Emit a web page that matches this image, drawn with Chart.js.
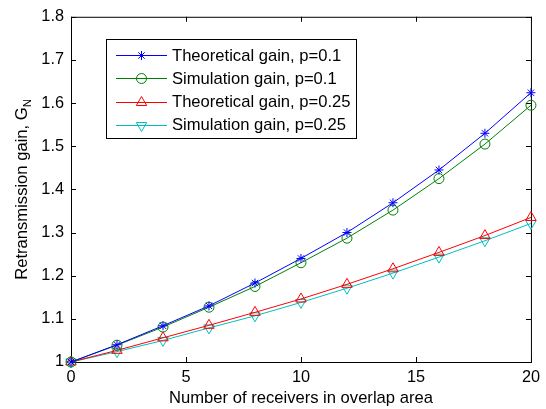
<!DOCTYPE html>
<html>
<head>
<meta charset="utf-8">
<script src="https://cdn.jsdelivr.net/npm/chart.js@4.4.1/dist/chart.umd.min.js"></script>
<style>
  body { margin: 0; background: #fff; }
  canvas { display: block; }
</style>
</head>
<body>
<canvas id="myChart" width="546" height="409"></canvas>
<script>
let receivers = [0, 2, 4, 6, 8, 10, 12, 14, 16, 18, 20];
let theoryP01 = [1, 1.040, 1.084, 1.130, 1.183, 1.240, 1.300, 1.369, 1.445, 1.530, 1.624];
let simP01 = [1, 1.039, 1.081, 1.127, 1.175, 1.230, 1.287, 1.352, 1.425, 1.505, 1.595];
let theoryP025 = [1, 1.027, 1.056, 1.085, 1.115, 1.146, 1.180, 1.216, 1.254, 1.293, 1.335];
let simP025 = [1, 1.024, 1.050, 1.079, 1.107, 1.138, 1.171, 1.206, 1.243, 1.281, 1.321];

let xTicks = [0, 5, 10, 15, 20];
let yTicks = [1, 1.1, 1.2, 1.3, 1.4, 1.5, 1.6, 1.7, 1.8];
let names = [
  "Theoretical gain, p=0.1",
  "Simulation gain, p=0.1",
  "Theoretical gain, p=0.25",
  "Simulation gain, p=0.25"
];
let colors = ["#0000ff", "#008000", "#ff0000", "#00bfbf"];
let markers = ["star", "circle", "triangle", "triangle"];
let rotations = [0, 0, 0, 180];
let radii = [4.5, 5, 6, 6];

const FONT = "'Liberation Sans', Arial, sans-serif";
const LABEL_SIZE = 16.6;
Chart.defaults.font.family = FONT;
Chart.defaults.font.size = 16.3;
Chart.defaults.color = "#000";

function series(values) {
  return receivers.map((r, i) => ({ x: r, y: values[i] }));
}

let allSeries = [theoryP01, simP01, theoryP025, simP025];
let datasets = allSeries.map((vals, i) => ({
  label: names[i],
  data: series(vals),
  borderColor: colors[i],
  backgroundColor: "rgba(0,0,0,0)",
  borderWidth: 1,
  pointStyle: markers[i],
  pointRotation: rotations[i],
  pointRadius: radii[i],
  pointBorderWidth: 1,
  pointBorderColor: colors[i],
  pointBackgroundColor: "rgba(0,0,0,0)",
  tension: 0,
  clip: false
}));

// box with inward ticks, like a matlab axes
const frame = {
  id: "frame",
  beforeDatasetsDraw(chart) {
    const { ctx, chartArea: a, scales: { x, y } } = chart;
    ctx.save();
    ctx.strokeStyle = "#000";
    ctx.lineWidth = 1;
    ctx.beginPath();
    xTicks.forEach(v => {
      let px = Math.round(x.getPixelForValue(v)) + 0.5;
      ctx.moveTo(px, a.bottom); ctx.lineTo(px, a.bottom - 5);
      ctx.moveTo(px, a.top); ctx.lineTo(px, a.top + 5);
    });
    yTicks.forEach(v => {
      let py = Math.round(y.getPixelForValue(v)) + 0.5;
      ctx.moveTo(a.left, py); ctx.lineTo(a.left + 5, py);
      ctx.moveTo(a.right, py); ctx.lineTo(a.right - 5, py);
    });
    ctx.stroke();
    ctx.strokeRect(a.left + 0.5, a.top + 0.5, a.right - a.left, a.bottom - a.top);

    // axis titles
    ctx.fillStyle = "#000";
    ctx.font = LABEL_SIZE + "px " + FONT;
    ctx.textAlign = "center";
    ctx.textBaseline = "alphabetic";
    ctx.fillText("Number of receivers in overlap area", (a.left + a.right) / 2, 403);

    let main = "Retransmission gain, G";
    let mw = ctx.measureText(main).width;
    ctx.font = "11.5px " + FONT;
    let sw = ctx.measureText("N").width;
    ctx.translate(27, (a.top + a.bottom) / 2);
    ctx.rotate(-Math.PI / 2);
    ctx.textAlign = "left";
    let start = -(mw + sw) / 2;
    ctx.font = LABEL_SIZE + "px " + FONT;
    ctx.fillText(main, start, 0);
    ctx.font = "11.5px " + FONT;
    ctx.fillText("N", start + mw, 4);
    ctx.restore();
  }
};

const boxLegend = {
  id: "boxLegend",
  afterDatasetsDraw(chart) {
    const ctx = chart.ctx;
    ctx.save();
    ctx.fillStyle = "#fff";
    ctx.fillRect(106, 39, 250, 99);
    ctx.strokeStyle = "#000";
    ctx.lineWidth = 1;
    ctx.strokeRect(106.5, 39.5, 250, 99);
    chart.data.datasets.forEach((ds, i) => {
      let yy = 55 + i * 23.3;
      ctx.strokeStyle = ds.borderColor;
      ctx.beginPath();
      ctx.moveTo(116, Math.round(yy) + 0.5);
      ctx.lineTo(167, Math.round(yy) + 0.5);
      ctx.stroke();
      ctx.fillStyle = "rgba(0,0,0,0)";
      Chart.helpers.drawPoint(ctx, {
        pointStyle: ds.pointStyle,
        rotation: ds.pointRotation,
        radius: ds.pointRadius,
        borderWidth: 1
      }, 141.5, Math.round(yy) + 0.5);
      ctx.fillStyle = "#000";
      ctx.font = LABEL_SIZE + "px " + FONT;
      ctx.textAlign = "left";
      ctx.textBaseline = "middle";
      ctx.fillText(ds.label, 172, yy + 1);
    });
    ctx.restore();
  }
};

new Chart(document.getElementById("myChart").getContext("2d"), {
  type: "line",
  data: { datasets: datasets },
  options: {
    responsive: false,
    animation: false,
    devicePixelRatio: 1,
    layout: { padding: { top: 13, right: 9, left: 0, bottom: 0 } },
    plugins: {
      legend: { display: false },
      tooltip: { enabled: false }
    },
    scales: {
      x: {
        type: "linear",
        min: 0,
        max: 20,
        grid: { display: false, drawTicks: false },
        border: { display: false },
        ticks: { padding: 6, maxRotation: 0 },
        afterBuildTicks: s => { s.ticks = xTicks.map(v => ({ value: v })); },
        afterFit: s => { s.height = 47; }
      },
      y: {
        type: "linear",
        min: 1,
        max: 1.8,
        grid: { display: false, drawTicks: false },
        border: { display: false },
        ticks: { padding: 7, callback: v => String(+v.toFixed(1)) },
        afterBuildTicks: s => { s.ticks = yTicks.map(v => ({ value: v })); },
        afterFit: s => { s.width = 71; }
      }
    }
  },
  plugins: [frame, boxLegend]
});
</script>
</body>
</html>
